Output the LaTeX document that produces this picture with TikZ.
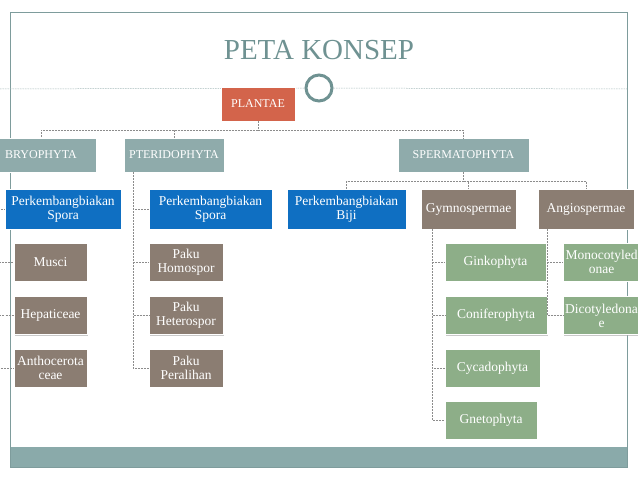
\documentclass[tikz,border=0pt]{standalone}
\usepackage{fontspec}
\setmainfont{Liberation Serif}
\usetikzlibrary{shadows}
\definecolor{titlec}{HTML}{6F9292}
\definecolor{tealbox}{HTML}{8FABAB}
\definecolor{bluebox}{HTML}{0F6FC2}
\definecolor{brownbox}{HTML}{8B7D72}
\definecolor{greenbox}{HTML}{8DAE88}
\definecolor{redbox}{HTML}{D3644B}
\definecolor{band}{HTML}{8AAAAA}
\definecolor{framec}{HTML}{7E9C9C}
\definecolor{connc}{HTML}{8C8C8C}
\tikzset{
  bx/.style={draw=white, line width=0.6pt, text=white, align=center, inner sep=1pt,
    font=\fontsize{13.5}{14}\selectfont,
    drop shadow={shadow xshift=1.2pt, shadow yshift=-1.2pt, fill=black!35, opacity=0.6}},
  top/.style={bx, fill=tealbox, minimum height=34pt, font=\fontsize{12}{13}\selectfont},
  blu/.style={bx, fill=bluebox, minimum height=40pt},
  brn/.style={bx, fill=brownbox},
  grn/.style={bx, fill=greenbox},
  conn/.style={draw=connc, dashed, dash pattern=on 2pt off 1pt, line width=0.5pt},
}
\begin{document}
\begin{tikzpicture}[x=1pt,y=-1pt]
\useasboundingbox (0,0) rectangle (638,479);
\fill[white] (0,0) rectangle (638,479);
% frame and band
\fill[band] (10,447) rectangle (627,467);
\draw[framec, line width=0.6pt] (10,12) rectangle (627,467);
% title
\node[text=titlec, font=\fontsize{29}{30}\selectfont] (title) at (319,50) {PETA KONSEP};
\coordinate (lineL) at (0,89);
\coordinate (lineR) at (627,89);
\node[draw=titlec, line width=3pt, circle, minimum size=26pt, inner sep=0pt] (circ) at (319,88) {};
\draw[draw=framec!70, dash pattern=on 1.5pt off 1pt, line width=0.5pt] (lineL) -- (circ.west);
\draw[draw=framec!70, dash pattern=on 1.5pt off 1pt, line width=0.5pt] (circ.east) -- (lineR);
% root
\node[bx, fill=redbox, minimum width=74pt, minimum height=34pt, font=\fontsize{12}{13}\selectfont] (plantae) at (258,104) {PLANTAE};
% level 1
\node[top, minimum width=110pt] (bryo) at (41,155) {BRYOPHYTA};
\node[top, minimum width=100pt] (pter) at (174,155) {PTERIDOPHYTA};
\node[top, minimum width=131pt] (sperm) at (463.5,155) {SPERMATOPHYTA};
% level 2
\node[blu, minimum width=116pt] (spora1) at (63,209) {Perkembangbiakan\\Spora};
\node[blu, minimum width=123pt] (spora2) at (210.5,209) {Perkembangbiakan\\Spora};
\node[blu, minimum width=119pt] (biji) at (346.5,209) {Perkembangbiakan\\Biji};
\node[brn, minimum width=95pt, minimum height=40pt] (gym) at (468.5,209) {Gymnospermae};
\node[brn, minimum width=96pt, minimum height=40pt] (angio) at (586,209) {Angiospermae};
% bryophyta children
\node[brn, minimum width=73pt, minimum height=38pt] (musci) at (50.5,262) {Musci};
\node[brn, minimum width=73pt, minimum height=38pt] (hepat) at (50.5,315.5) {Hepaticeae};
\node[brn, minimum width=73pt, minimum height=38pt] (antho) at (50.5,368) {Anthocerota\\ceae};
% pteridophyta children
\node[brn, minimum width=74pt, minimum height=38pt] (homo) at (186,262) {Paku\\Homospor};
\node[brn, minimum width=74pt, minimum height=38pt] (hetero) at (186,315.5) {Paku\\Heterospor};
\node[brn, minimum width=74pt, minimum height=38pt] (peral) at (186,368) {Paku\\Peralihan};
% gymnospermae children
\node[grn, minimum width=101pt, minimum height=38pt] (ginko) at (495.5,262) {Ginkophyta};
\node[grn, minimum width=102pt, minimum height=38pt] (conif) at (496,315.5) {Coniferophyta};
\node[grn, minimum width=95pt, minimum height=38pt] (cycad) at (492.5,368) {Cycadophyta};
\node[grn, minimum width=92pt, minimum height=38pt] (gneto) at (491,420) {Gnetophyta};
% angiospermae children
\node[grn, minimum width=77pt, minimum height=38pt] (mono) at (601.5,262) {Monocotyled\\onae};
\node[grn, minimum width=77pt, minimum height=38pt] (dico) at (601.5,315.5) {Dicotyledona\\e};
% connectors: root
\coordinate (busP) at (258,130);
\draw[conn] (plantae.south) -- (busP);
\draw[conn] (busP) -| (bryo.north);
\draw[conn] (busP) -| (pter.north);
\draw[conn] (busP) -| (sperm.north);
% spermatophyta
\coordinate (busS) at (463.5,181);
\draw[conn] (sperm.south) -- (busS);
\draw[conn] (busS) -| (biji.north);
\draw[conn] (busS) -| (gym.north);
\draw[conn] (busS) -| (angio.north);
% bryophyta
\coordinate (bv) at (-1,172);
\draw[conn] (bv) |- (spora1.west);
\draw[conn] (bv) |- (musci.west);
\draw[conn] (bv) |- (hepat.west);
\draw[conn] (bv) |- (antho.west);
% pteridophyta
\coordinate (pv) at (133,172);
\draw[conn] (pv) |- (spora2.west);
\draw[conn] (pv) |- (homo.west);
\draw[conn] (pv) |- (hetero.west);
\draw[conn] (pv) |- (peral.west);
% gymnospermae
\coordinate (gv) at (432,229);
\draw[conn] (gv) |- (ginko.west);
\draw[conn] (gv) |- (conif.west);
\draw[conn] (gv) |- (cycad.west);
\draw[conn] (gv) |- (gneto.west);
% angiospermae
\coordinate (av) at (547,229);
\draw[conn] (av) |- (mono.west);
\draw[conn] (av) |- (dico.west);
\end{tikzpicture}
\end{document}
